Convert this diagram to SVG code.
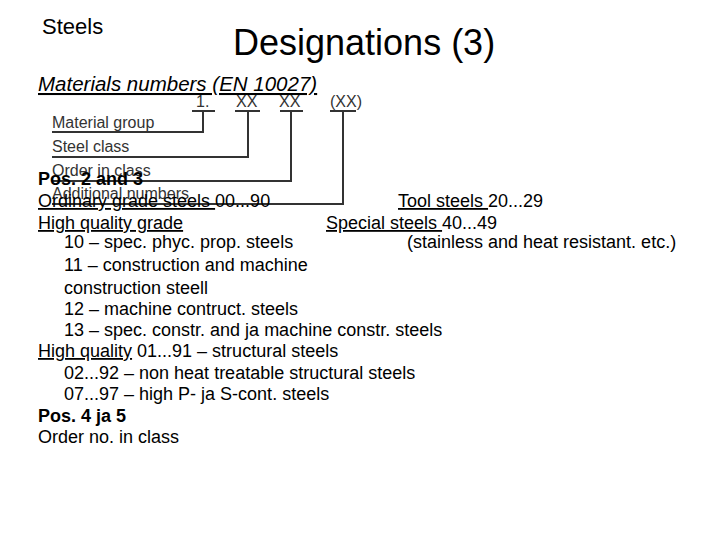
<svg xmlns="http://www.w3.org/2000/svg" width="720" height="540" viewBox="0 0 720 540">
<style>
text{font-family:"Liberation Sans",Arial,sans-serif;fill:#000}
.b{font-size:18px}
.f{font-size:16px;fill:#333}
.u{text-decoration:underline}
.l{stroke:#333;stroke-width:2;fill:none}
</style>
<rect width="720" height="540" fill="#fff"/>
<text x="42" y="34" font-size="22">Steels</text>
<text x="233" y="55" font-size="36">Designations (3)</text>
<text x="38" y="91" class="u" font-size="20.5" font-style="italic">Materials numbers (EN 10027)</text>
<g id="fig">
<text x="196" y="107" class="f">1.</text>
<text x="236" y="107" class="f">XX</text>
<text x="279" y="107" class="f">XX</text>
<text x="330" y="107" class="f">(XX)</text>
<text x="52" y="128" class="f">Material group</text>
<text x="52" y="152" class="f">Steel class</text>
<text x="52" y="176" class="f">Order in class</text>
<text x="52" y="199" class="f">Additional numbers</text>
</g>
<g id="connectors" class="l">
<path d="M192 111H215M203 111V132H52"/>
<path d="M235 111H260M248 111V157H52"/>
<path d="M280 111H303M291 111V181H52"/>
<path d="M330 111H356M343 111V204H52"/>
</g>
<g id="body" class="b">
<text x="38" y="185" font-weight="bold">Pos. 2 and 3</text>
<text x="38" y="207"><tspan class="u">Ordinary grade steels </tspan>00...90</text>
<text x="398" y="207"><tspan class="u">Tool steels </tspan>20...29</text>
<text x="38" y="229" class="u">High quality grade</text>
<text x="326" y="229"><tspan class="u">Special steels </tspan>40...49</text>
<text x="64" y="248">10 – spec. phyc. prop. steels</text>
<text x="407" y="248">(stainless and heat resistant. etc.)</text>
<text x="64" y="271">11 – construction and machine</text>
<text x="64" y="294">construction steell</text>
<text x="64" y="315">12 – machine contruct. steels</text>
<text x="64" y="336">13 – spec. constr. and ja machine constr. steels</text>
<text x="38" y="357"><tspan class="u">High quality</tspan> 01...91 – structural steels</text>
<text x="64" y="379">02...92 – non heat treatable structural steels</text>
<text x="64" y="400">07...97 – high P- ja S-cont. steels</text>
<text x="38" y="422" font-weight="bold">Pos. 4 ja 5</text>
<text x="38" y="443">Order no. in class</text>
</g>
</svg>
